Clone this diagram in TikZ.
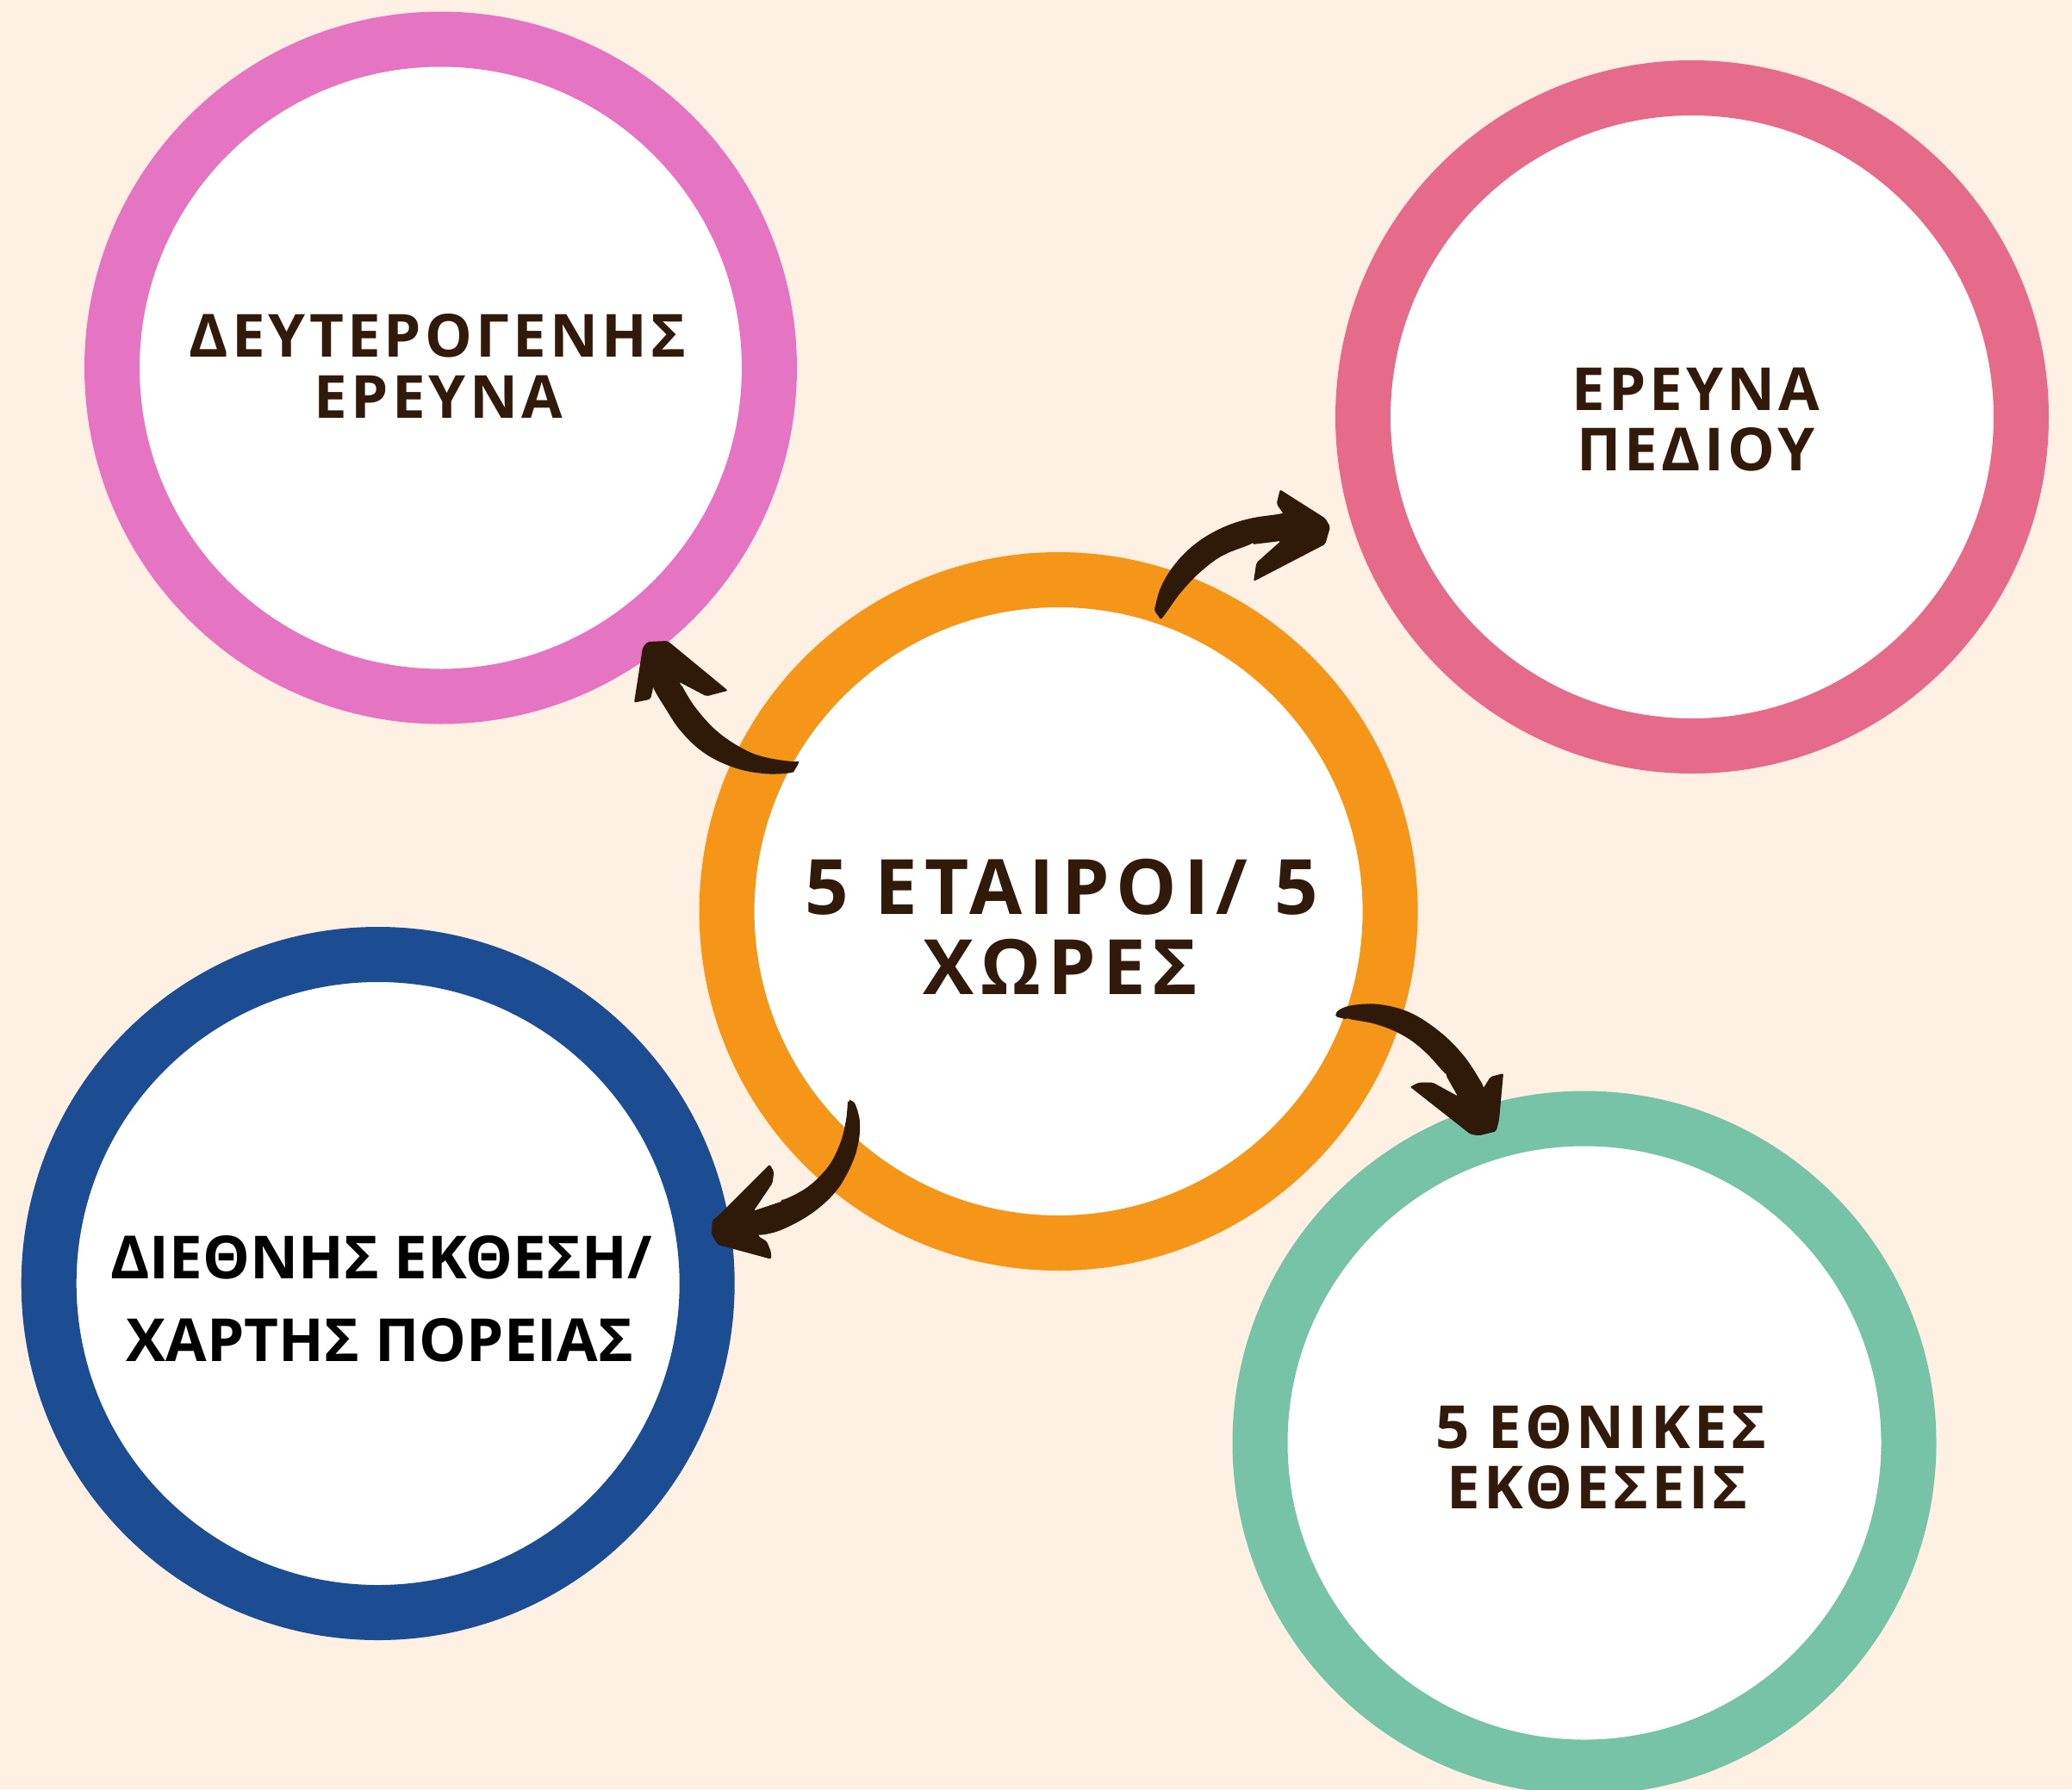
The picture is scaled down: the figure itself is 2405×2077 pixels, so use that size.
\documentclass[tikz,border=0pt]{standalone}
\usepackage{fontspec}
\setmainfont{Open Sans}
\newfontfamily\trackedfont[LetterSpace=6]{Open Sans}
\newfontfamily\bigtrackedfont[LetterSpace=9]{Open Sans}
\newfontfamily\plainfont{Open Sans}
\definecolor{bgc}{HTML}{FEF1E3}
\definecolor{pinkc}{HTML}{E574C3}
\definecolor{rosec}{HTML}{E66B8B}
\definecolor{orangec}{HTML}{F59619}
\definecolor{bluec}{HTML}{1C4C91}
\definecolor{greenc}{HTML}{76C3A7}
\definecolor{txtc}{HTML}{321A0A}
\definecolor{arrc}{HTML}{2F1908}
\tikzset{
  ring/.style={circle, inner sep=0pt, line width=64pt, fill=white, minimum size=#1},
  lab/.style={inner sep=0pt, anchor=base, text=txtc, font=\trackedfont\bfseries\fontsize{69}{70}\selectfont},
  biglab/.style={inner sep=0pt, anchor=base, text=txtc, font=\bigtrackedfont\bfseries\fontsize{88.7}{90}\selectfont},
  bluelab/.style={inner sep=0pt, anchor=base, text=black, font=\plainfont\bfseries\fontsize{69}{70}\selectfont},
  arrowshape/.style={fill=arrc, rounded corners=2pt}
}
\begin{document}
\begin{tikzpicture}[x=1pt,y=-1pt]
\useasboundingbox (0,0) rectangle (2405,2077);
\clip (0,0) rectangle (2405,2077);
\fill[bgc] (0,0) rectangle (2405,2077);

% circles
\node[ring=763pt, draw=pinkc] (pink) at (511.5,427) {};
\node[ring=764pt, draw=rosec] (rose) at (1964,484) {};
\node[ring=770pt, draw=orangec] (center) at (1228.6,1058) {};
\node[ring=764pt, draw=bluec] (blue) at (438.7,1490) {};
\node[ring=753pt, draw=greenc] (green) at (1839,1675) {};

% texts
\node[lab] (pinkA) at (508,414.5) {ΔΕΥΤΕΡΟΓΕΝΗΣ};
\node[lab] (pinkB) at (509,485) {ΕΡΕΥΝΑ};
\node[lab] (roseA) at (1968.5,476) {ΕΡΕΥΝΑ};
\node[lab] (roseB) at (1968.5,546.7) {ΠΕΔΙΟΥ};
\node[biglab] (centerA) at (1232,1061.7) {5 ΕΤΑΙΡΟΙ/ 5};
\node[biglab] (centerB) at (1231,1154) {ΧΩΡΕΣ};
\node[lab] (greenA) at (1858.5,1681) {5 ΕΘΝΙΚΕΣ};
\node[lab] (greenB) at (1854,1751.7) {ΕΚΘΕΣΕΙΣ};
\node[bluelab] (blueA) at (442.5,1484) {ΔΙΕΘΝΗΣ ΕΚΘΕΣΗ/};
\node[bluelab] (blueB) at (441,1580) {ΧΑΡΤΗΣ ΠΟΡΕΙΑΣ};

% arrows
\fill[arrowshape] plot[smooth,tension=0.6] coordinates {(920,898) (886,898) (852,891) (818,874.5) (790.5,849) (770,818.5) (758,799)}
  -- (755,811.7) -- (736,815.7) -- (746,751.7) -- (751.7,745) -- (775,744) -- (845,801.7) -- (820,808.3) -- (788.3,791.7)
  -- plot[smooth,tension=0.6] coordinates {(792,798) (809,823.7) (832.5,849) (862,869) (888,879) (927.3,885.7)} -- cycle;

\fill[arrowshape] plot[smooth,tension=0.6] coordinates {(1340,709) (1347.5,681.5) (1364.5,654) (1388.5,630.5) (1419,612.5) (1453,601.5) (1490,597)}
  -- (1481.7,585) -- (1485.7,568.3) -- (1538.3,601.7) -- (1544,611.7) -- (1538.3,631.7) -- (1455,675) -- (1458.3,653.3) -- (1486.7,628)
  -- plot[smooth,tension=0.6] coordinates {(1454,632) (1421,644) (1395,662.5) (1372.5,685.5) (1355.5,708.5) (1347.7,719.8)} -- cycle;

\fill[arrowshape] plot[smooth,tension=0.6] coordinates {(1550,1180) (1555,1172) (1573.3,1166.5) (1603.3,1166.3) (1637.7,1176) (1671.5,1198) (1698.5,1225) (1718.5,1255) (1721.7,1263.3)}
  -- (1730,1250) -- (1745,1246) -- (1740,1300) -- (1736.7,1313.3) -- (1716.7,1318.3) -- (1706.7,1316.7) -- (1636.7,1261.7) -- (1646.7,1256.7) -- (1663.3,1256.7) -- (1692,1272.5)
  -- plot[smooth,tension=0.6] coordinates {(1678.5,1248.7) (1655,1222) (1628.5,1202) (1596,1188.7) (1563.3,1183.5)} -- cycle;

\fill[arrowshape] plot[smooth,tension=0.6] coordinates {(986.7,1278.3) (992.5,1281.7) (998,1303.3) (995.5,1330.5) (985.5,1358) (968.5,1385) (941.5,1409) (907.5,1427.5) (880,1435)}
  -- (890,1441) -- (895,1453.3) -- (895,1461.7) -- (833.3,1445) -- (826,1433.3) -- (826.7,1416.7) -- (833.3,1411.7) -- (893.3,1351.7) -- (898.3,1360) -- (896.7,1373.3) -- (875,1405.5)
  -- plot[smooth,tension=0.6] coordinates {(908,1394.5) (938,1377.5) (961,1354.5) (974.5,1329) (981.5,1303) (984,1280)} -- cycle;
\end{tikzpicture}
\end{document}
